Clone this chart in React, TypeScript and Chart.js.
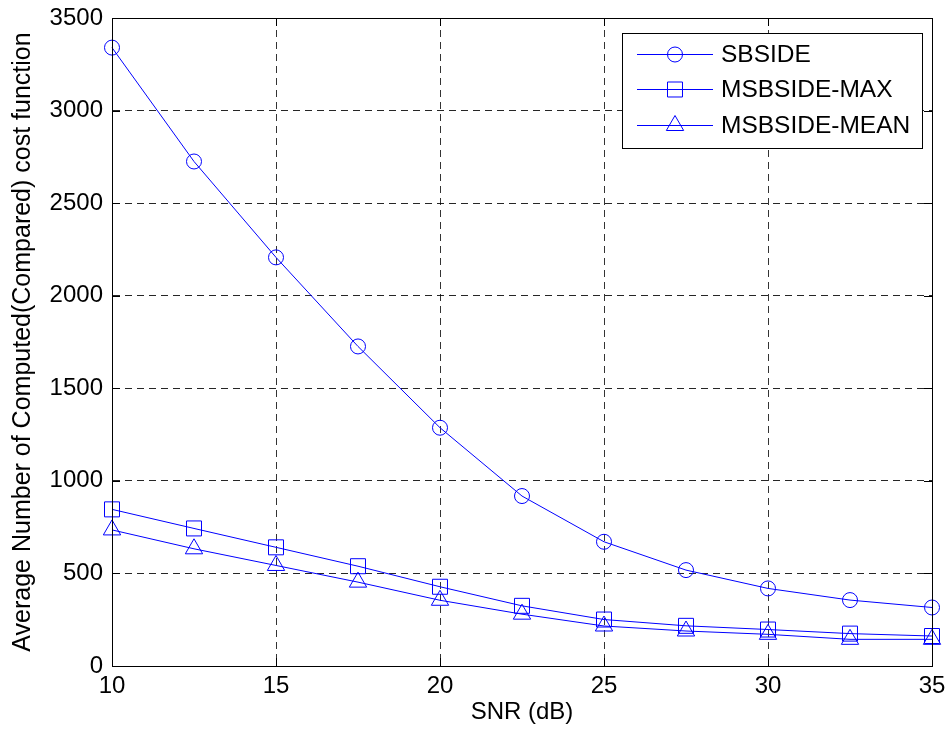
import React, { useEffect, useRef } from 'react';
import { Chart, registerables } from 'chart.js';

Chart.register(...registerables);

const snr = [10, 12.5, 15, 17.5, 20, 22.5, 25, 27.5, 30, 32.5, 35];
const sbside = [3340, 2725, 2207, 1726, 1287, 918, 671, 518, 419, 356, 316];
const msbsideMax = [846, 743, 641, 539, 428, 325, 251, 217, 197, 175, 162];
const msbsideMean = [735, 633, 543, 453, 355, 280, 216, 189, 171, 144, 144];
const xTicks = [10, 15, 20, 25, 30, 35];
const yTicks = [0, 500, 1000, 1500, 2000, 2500, 3000, 3500];
const seriesLabels = ['SBSIDE', 'MSBSIDE-MAX', 'MSBSIDE-MEAN'];
const xTitle = 'SNR (dB)';
const yTitle = 'Average Number of Computed(Compared) cost function';

const FONT = "'Liberation Sans', Arial, sans-serif";
const BLUE = '#0000ff';

function drawMarker(ctx: CanvasRenderingContext2D, style: string, x: number, y: number, r: number) {
  ctx.beginPath();
  if (style === 'circle') {
    ctx.arc(x, y, r, 0, Math.PI * 2);
  } else if (style === 'rect') {
    const s = Math.SQRT1_2 * r;
    ctx.rect(x - s, y - s, 2 * s, 2 * s);
  } else {
    const h = r;
    ctx.moveTo(x, y - h);
    ctx.lineTo(x + Math.sin(Math.PI / 3) * h, y + h / 2);
    ctx.lineTo(x - Math.sin(Math.PI / 3) * h, y + h / 2);
    ctx.closePath();
  }
  ctx.stroke();
}

const framePlugin = {
  id: 'matlabFrame',
  afterDraw(chart: any) {
    const ctx: CanvasRenderingContext2D = chart.ctx;
    const { left, right, top, bottom } = chart.chartArea;
    ctx.save();
    ctx.strokeStyle = '#000';
    ctx.lineWidth = 1;
    ctx.setLineDash([]);
    ctx.strokeRect(Math.round(left) + 0.5, Math.round(top) + 0.5, Math.round(right - left), Math.round(bottom - top));
    const tl = 8;
    const xs = chart.scales.x;
    const ys = chart.scales.y;
    ctx.beginPath();
    xTicks.forEach((v) => {
      const px = Math.round(xs.getPixelForValue(v)) + 0.5;
      ctx.moveTo(px, bottom);
      ctx.lineTo(px, bottom - tl);
      ctx.moveTo(px, top);
      ctx.lineTo(px, top + tl);
    });
    yTicks.forEach((v) => {
      const py = Math.round(ys.getPixelForValue(v)) + 0.5;
      ctx.moveTo(left, py);
      ctx.lineTo(left + tl, py);
      ctx.moveTo(right, py);
      ctx.lineTo(right - tl, py);
    });
    ctx.stroke();

    // legend
    const bx = 622, by = 33, bw = 300, bh = 115;
    ctx.fillStyle = '#fff';
    ctx.fillRect(bx, by, bw, bh);
    ctx.strokeStyle = '#000';
    ctx.strokeRect(bx + 0.5, by + 0.5, bw, bh);
    const rowsY = [54.5, 89.5, 125.5];
    chart.data.datasets.forEach((ds: any, i: number) => {
      const y = rowsY[i];
      ctx.strokeStyle = BLUE;
      ctx.lineWidth = 1;
      ctx.beginPath();
      ctx.moveTo(637, y);
      ctx.lineTo(713, y);
      ctx.stroke();
      drawMarker(ctx, ds.pointStyle, 675, y, ds.pointRadius);
      ctx.fillStyle = '#000';
      ctx.font = `24.5px ${FONT}`;
      ctx.textBaseline = 'middle';
      ctx.textAlign = 'left';
      ctx.fillText(ds.label, 721, y + 1);
    });
    ctx.restore();
  },
};

export default function App() {
  const ref = useRef<HTMLCanvasElement>(null);

  useEffect(() => {
    document.body.style.margin = '0';
    const canvas = ref.current;
    if (!canvas) return;
    const mk = (label: string, data: number[], style: string, r: number) => ({
      label,
      data: snr.map((x, i) => ({ x, y: data[i] })),
      borderColor: BLUE,
      backgroundColor: 'rgba(0,0,0,0)',
      borderWidth: 1,
      pointStyle: style,
      pointRadius: r,
      pointBorderWidth: 1,
      pointBackgroundColor: 'rgba(0,0,0,0)',
      pointBorderColor: BLUE,
      tension: 0,
      clip: false,
      fill: false,
    });
    const chart = new Chart(canvas, {
      type: 'line',
      data: {
        datasets: [
          mk(seriesLabels[0], sbside, 'circle', 7.5),
          mk(seriesLabels[1], msbsideMax, 'rect', 10.6),
          mk(seriesLabels[2], msbsideMean, 'triangle', 10),
        ],
      },
      plugins: [framePlugin],
      options: {
        responsive: false,
        animation: false,
        devicePixelRatio: 1,
        layout: { padding: { left: 0, top: 18, right: 16, bottom: 0 } },
        plugins: { legend: { display: false }, tooltip: { enabled: false } },
        elements: { line: { borderWidth: 1 } },
        scales: {
          x: {
            type: 'linear',
            min: 10,
            max: 35,
            afterBuildTicks: (s: any) => {
              s.ticks = xTicks.map((v) => ({ value: v }));
            },
            afterFit: (s: any) => {
              s.height = 68;
              s.paddingLeft = 0;
              s.paddingRight = 0;
            },
            ticks: {
              color: '#000',
              font: { family: FONT, size: 24 },
              padding: 6,
              maxRotation: 0,
              autoSkip: false,
              callback: (v: any) => String(v),
            },
            grid: { color: 'rgba(0,0,0,0.8)', lineWidth: 1, drawTicks: false },
            border: { display: true, color: '#000', dash: [7, 5] },
            title: {
              display: true,
              text: xTitle,
              color: '#000',
              font: { family: FONT, size: 24 },
              padding: { top: 0, bottom: 7 },
            },
          },
          y: {
            type: 'linear',
            min: 0,
            max: 3500,
            afterBuildTicks: (s: any) => {
              s.ticks = yTicks.map((v) => ({ value: v }));
            },
            afterFit: (s: any) => {
              s.width = 112;
              s.paddingTop = 0;
              s.paddingBottom = 0;
            },
            ticks: {
              color: '#000',
              font: { family: FONT, size: 24 },
              padding: 9,
              autoSkip: false,
              callback: (v: any) => String(v),
            },
            grid: { color: 'rgba(0,0,0,0.85)', lineWidth: 1, drawTicks: false },
            border: { display: true, color: '#000', dash: [7, 5] },
            title: {
              display: true,
              text: yTitle,
              color: '#000',
              font: { family: FONT, size: 25 },
              padding: { top: 8, bottom: 0 },
            },
          },
        },
      },
    } as any);
    return () => chart.destroy();
  }, []);

  return (
    <div style={{ width: 948, height: 734 }}>
      <canvas ref={ref} width={948} height={734} style={{ display: 'block' }} />
    </div>
  );
}
